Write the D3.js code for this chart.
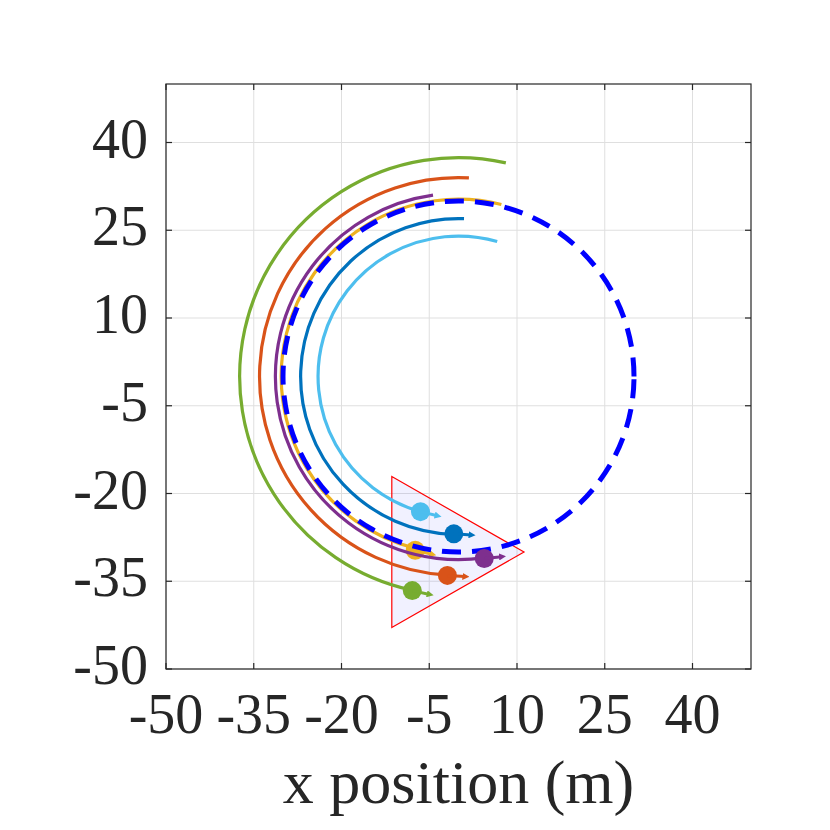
<!DOCTYPE html>
<html><head><meta charset="utf-8">
<script src="https://cdn.jsdelivr.net/npm/d3@7"></script>
<style>html,body{margin:0;padding:0;background:#fff}</style>
</head><body><svg id="c" width="830" height="830"></svg>
<script>
// ---- data ----
const xTicks = [-50, -35, -20, -5, 10, 25, 40];
const yTicks = [-50, -35, -20, -5, 10, 25, 40];
const xLabel = "x position (m)";
const agentNames = ["blue", "orange", "yellow", "purple", "green", "lightblue"];
const agentColors = ["#0072BD", "#D95319", "#EDB120", "#7E2F8E", "#77AC30", "#4DBEEE"];
const pathRadius = [27, 34, 30.3, 31.3, 37.4, 24];
const startDeg = [88, 87, 76, 98, 77.5, 74];
const endDeg = [268, 267, 256, 278, 257.5, 254];
const posX = [-0.8, -1.9, -7.4, 4.4, -7.9, -6.5];
const posY = [-26.9, -34.0, -29.7, -31.1, -36.6, -23.1];
const velU = [3.0, 3.05, 2.9, 3.0, 2.95, 2.9];
const velV = [-0.2, -0.2, -0.7, 0.3, -0.65, -0.7];
const refCenter = [0, 0];
const refRadius = 30;
const coneX = [-11.4, -11.4, 11.2];
const coneY = [-17.1, -42.9, -30];

// ---- layout ----
const svg = d3.select("#c");
const x = d3.scaleLinear().domain([-50, 50]).range([166, 751]);
const y = d3.scaleLinear().domain([-50, 50]).range([669, 84]);
const pxPerUnit = (x(50) - x(-50)) / 100;
const font = "'Liberation Serif', 'Times New Roman', serif";
const axisColor = "#262626";

// grid
const grid = svg.append("g");
grid.selectAll("line.gx").data(xTicks).join("line")
  .attr("x1", d => x(d)).attr("x2", d => x(d)).attr("y1", y(-50)).attr("y2", y(50))
  .attr("stroke", "#dfdfdf").attr("stroke-width", 1);
grid.selectAll("line.gy").data(yTicks).join("line")
  .attr("y1", d => y(d)).attr("y2", d => y(d)).attr("x1", x(-50)).attr("x2", x(50))
  .attr("stroke", "#dfdfdf").attr("stroke-width", 1);

const plot = svg.append("g");
// sensing cone
plot.append("path")
  .attr("d", d3.line()(coneX.map((cx, i) => [x(cx), y(coneY[i])])) + "Z")
  .attr("fill", "#0000ff").attr("fill-opacity", 0.055)
  .attr("stroke", "#ff0000").attr("stroke-width", 1.2);

// arrow markers
const defs = svg.append("defs");
agentColors.forEach((c, i) => {
  defs.append("marker").attr("id", "ah" + i)
    .attr("viewBox", "0 -5 10 10").attr("refX", 4).attr("refY", 0)
    .attr("markerWidth", 7).attr("markerHeight", 7)
    .attr("markerUnits", "userSpaceOnUse").attr("orient", "auto")
    .append("path").attr("d", "M0,-5L10,0L0,5Z").attr("fill", c);
});

function drawAgent(i) {
  const g = plot.append("g");
  const p = d3.path();
  const cx = x(refCenter[0]), cy = y(refCenter[1]);
  const r = pathRadius[i] * pxPerUnit;
  const a0 = -startDeg[i] * Math.PI / 180, a1 = -endDeg[i] * Math.PI / 180;
  p.moveTo(cx + r * Math.cos(a0), cy + r * Math.sin(a0));
  p.arc(cx, cy, r, a0, a1, true);
  g.append("path").attr("d", p.toString()).attr("fill", "none")
    .attr("stroke", agentColors[i]).attr("stroke-width", 3.2);
  g.append("circle").attr("cx", x(posX[i])).attr("cy", y(posY[i])).attr("r", 9.5)
    .attr("fill", agentColors[i]);
  g.append("line")
    .attr("x1", x(posX[i])).attr("y1", y(posY[i]))
    .attr("x2", x(posX[i] + velU[i])).attr("y2", y(posY[i] + velV[i]))
    .attr("stroke", agentColors[i]).attr("stroke-width", 3)
    .attr("marker-end", "url(#ah" + i + ")");
}

[0, 1, 2].forEach(drawAgent);

// reference circle (dashed)
{
  const p = d3.path();
  const cx = x(refCenter[0]), cy = y(refCenter[1]);
  const r = refRadius * pxPerUnit;
  p.moveTo(cx + r, cy);
  p.arc(cx, cy, r, 0, -2 * Math.PI + 1e-6, true);
  plot.append("path").attr("d", p.toString()).attr("fill", "none")
    .attr("stroke", "#0000ff").attr("stroke-width", 5)
    .attr("stroke-dasharray", "19,11");
}

[3, 4, 5].forEach(drawAgent);

// frame
svg.append("rect").attr("x", x(-50)).attr("y", y(50))
  .attr("width", x(50) - x(-50)).attr("height", y(-50) - y(50))
  .attr("fill", "none").attr("stroke", axisColor).attr("stroke-width", 1.2);

// ticks (inside, mirrored)
const tl = 6;
const tk = svg.append("g").attr("stroke", axisColor).attr("stroke-width", 1.2);
xTicks.forEach(d => {
  tk.append("line").attr("x1", x(d)).attr("x2", x(d)).attr("y1", y(-50)).attr("y2", y(-50) - tl);
  tk.append("line").attr("x1", x(d)).attr("x2", x(d)).attr("y1", y(50)).attr("y2", y(50) + tl);
});
yTicks.forEach(d => {
  tk.append("line").attr("y1", y(d)).attr("y2", y(d)).attr("x1", x(-50)).attr("x2", x(-50) + tl);
  tk.append("line").attr("y1", y(d)).attr("y2", y(d)).attr("x1", x(50)).attr("x2", x(50) - tl);
});

// tick labels
svg.append("g").selectAll("text").data(xTicks).join("text")
  .attr("x", d => x(d)).attr("y", 733)
  .attr("text-anchor", "middle").attr("font-family", font).attr("font-size", 56)
  .attr("fill", axisColor).text(d => String(d));
svg.append("g").selectAll("text").data(yTicks).join("text")
  .attr("x", 148).attr("y", d => y(d) + 15)
  .attr("text-anchor", "end").attr("font-family", font).attr("font-size", 56)
  .attr("fill", axisColor).text(d => String(d));

// axis label
svg.append("text").attr("x", (x(-50) + x(50)) / 2).attr("y", 803)
  .attr("text-anchor", "middle").attr("font-family", font).attr("font-size", 62)
  .attr("fill", axisColor).text(xLabel);
</script></body></html>
